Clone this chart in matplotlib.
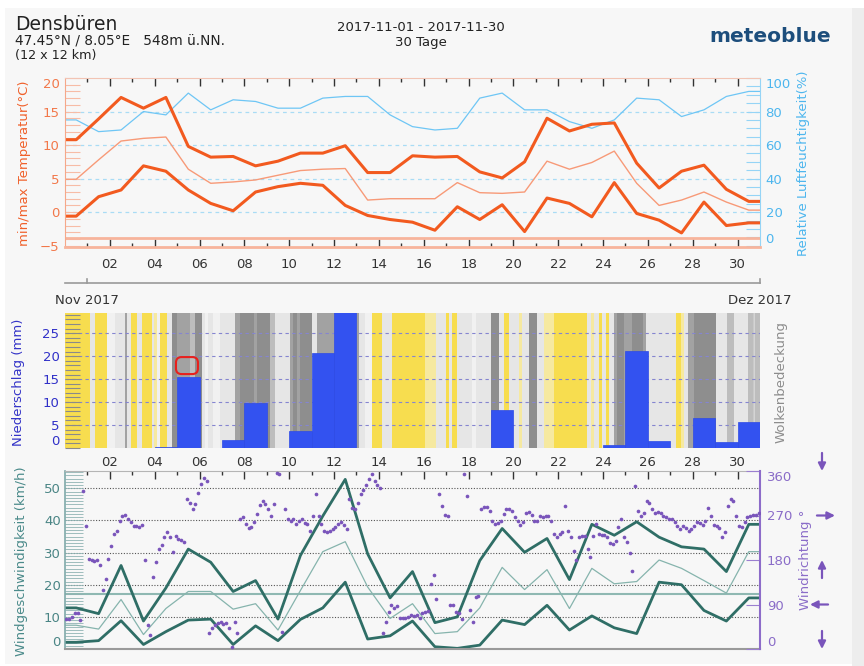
"""
meteoblue-style monthly overview for Densbueren, Nov 2017:
temperature / humidity, precipitation over cloud cover, wind speed / direction.
"""
import numpy as np
import matplotlib
matplotlib.use("Agg")
import matplotlib.pyplot as plt
import matplotlib.transforms as mtransforms
from matplotlib.patches import Rectangle, FancyBboxPatch
from matplotlib.lines import Line2D
from matplotlib.ticker import MultipleLocator

plt.rcParams["font.family"] = ["DejaVu Sans"]
plt.rcParams["hatch.linewidth"] = 0.8

# ----------------------------- DATA -----------------------------
DAY_LABELS = [f"{d:02d}" for d in range(2, 31, 2)]

TMAX = [10.8, 13.9, 17.1, 15.5, 17.1, 9.8, 8.2, 8.3, 6.9, 7.6, 8.8, 8.8, 9.9, 5.9, 5.9,
        8.4, 8.2, 8.3, 6.0, 5.1, 7.5, 14.0, 12.1, 13.1, 13.3, 7.3, 3.6, 6.1, 7.0, 3.4, 1.6]
TMEAN = [4.9, 7.8, 10.6, 11.0, 11.2, 6.4, 4.3, 4.5, 4.8, 5.5, 6.2, 6.4, 6.5, 1.8, 2.0,
         2.0, 2.0, 4.4, 2.9, 2.8, 3.0, 7.6, 6.4, 7.4, 9.1, 4.3, 1.0, 1.8, 3.0, 1.5, 0.3]
TMIN = [-0.6, 2.3, 3.3, 6.9, 6.1, 3.3, 1.3, 0.2, 3.0, 3.8, 4.3, 4.0, 1.0, -0.5, -1.1,
        -1.5, -2.7, 0.8, -1.1, 1.1, -2.9, 2.1, 1.3, -0.7, 4.4, -0.2, -1.2, -3.1, 1.5, -2.0, -1.6]
RH = [75, 68, 69, 80, 78, 91, 81, 87, 86, 82, 82, 88, 89, 89, 78,
      71, 69, 70, 88, 91, 81, 81, 74, 70, 75, 88, 87, 77, 81, 89, 92]

PRECIP = [0, 0, 0, 0, 0.2, 15.5, 0, 1.7, 9.8, 0, 3.7, 20.6, 30.0, 0.1, 0,
          0, 0, 0, 0, 8.3, 0, 0, 0, 0, 0.6, 21.1, 1.5, 0, 6.5, 1.3, 5.6]

# cloud cover: segment start (days) and class per segment
CLOUD_T = [0.00, 1.12, 1.34, 1.89, 2.23, 2.68, 2.78, 2.93, 3.20, 3.42, 3.87, 3.97, 4.09, 4.24,
           4.54, 4.76, 4.99, 5.58, 5.80, 6.10, 6.25, 6.40, 6.62, 6.92, 7.59, 7.81, 8.41, 8.56,
           9.15, 9.38, 10.04, 10.19, 10.34, 10.49, 11.01, 11.25, 13.10, 13.39, 13.69, 14.14,
           14.58, 16.07, 16.53, 16.98, 17.13, 17.28, 17.50, 18.17, 18.32, 19.00, 19.36, 19.58,
           19.80, 20.25, 20.40, 20.70, 21.07, 21.37, 21.81, 23.30, 23.45, 23.60, 23.82, 23.97,
           24.12, 24.27, 24.49, 24.64, 24.94, 25.31, 25.76, 25.91, 27.25, 27.47, 27.62, 27.77,
           28.07, 29.03, 29.55, 29.85, 30.45, 30.67]
CLOUD_CODE = "YLYWLGLYLYLPWYLDGSDLWLWLGDGDSLGDGDLGLWYLYPLYLYLWLDLYLPLDLPYLPLYLYLGDGDGLYPLGDLSLSH"

WMAX = [12.8, 11.0, 26.0, 8.7, 19.0, 31.1, 27.0, 17.9, 21.3, 9.3, 29.1, 41.4, 52.8, 29.6, 15.9,
        24.1, 8.2, 10.0, 27.5, 37.5, 30.1, 34.4, 21.6, 38.8, 35.4, 39.6, 34.8, 31.8, 31.1, 24.1, 38.8]
WMEAN = [7.4, 6.2, 15.4, 4.5, 12.6, 17.9, 17.9, 12.4, 14.1, 5.9, 18.2, 30.3, 33.4, 19.3, 9.5,
         14.1, 4.8, 5.4, 12.8, 25.4, 18.5, 24.7, 12.6, 25.1, 20.3, 21.0, 27.7, 25.1, 21.3, 17.4, 30.3]
WMIN = [2.1, 2.6, 8.8, 1.4, 5.4, 9.0, 9.3, 1.4, 7.2, 2.6, 9.2, 12.8, 20.8, 3.1, 4.1,
        8.7, 0.7, 0.2, 1.2, 9.0, 7.6, 13.6, 5.9, 10.3, 6.6, 4.8, 20.8, 20.0, 12.0, 8.7, 15.9]

# wind direction, 3-hourly (8 values per day)
WDIR = [
    60, 60, 65, 72, 72, 58, 320, 249,
    182, 179, 177, 181, 169, 119, 142, 182,
    209, 232, 239, 259, 269, 271, 263, 256,
    249, 249, 246, 250, 179, 48, 28, 145,
    175, 202, 210, 226, 237, 226, 196, 228,
    222, 221, 217, 304, 296, 283, 293, 316,
    333, 346, 340, 32, 43, 48, 52, 54,
    50, 52, 43, 5, 55, 32, 263, 266,
    252, 244, 246, 257, 273, 291, 299, 293,
    283, 269, 293, 356, 353, 35, 283, 263,
    259, 263, 252, 259, 263, 255, 252, 239,
    269, 313, 269, 252, 239, 236, 239, 242,
    246, 252, 256, 250, 242, 303, 286, 284,
    296, 313, 321, 331, 343, 353, 340, 331,
    326, 32, 55, 75, 90, 82, 87, 62,
    63, 62, 65, 68, 67, 68, 63, 72,
    75, 76, 132, 149, 102, 313, 289, 271,
    268, 90, 88, 75, 72, 60, 353, 309,
    78, 55, 105, 108, 284, 288, 288, 279,
    259, 252, 255, 259, 273, 283, 283, 279,
    266, 259, 250, 257, 276, 277, 271, 259,
    259, 269, 266, 269, 268, 259, 232, 226,
    232, 236, 289, 239, 226, 199, 179, 226,
    229, 228, 202, 186, 229, 252, 232, 230,
    230, 226, 214, 212, 219, 246, 263, 226,
    216, 194, 157, 330, 279, 269, 276, 299,
    296, 283, 275, 277, 275, 269, 266, 263,
    263, 256, 249, 242, 248, 244, 239, 242,
    249, 256, 254, 250, 259, 286, 269, 250,
    248, 244, 226, 236, 289, 304, 299, 269,
    249, 246, 256, 266, 268, 271, 271, 276,
]

# ----------------------------- STYLE -----------------------------
W_PX, H_PX, DPI = 864, 666, 100
BG = "#f7f7f7"
ORANGE, SALMON, SALMON_L = "#f25a1f", "#f79a78", "#f7b49c"
SKY, SKY_L = "#6ec6f5", "#4db6ee"
BLUE = "#3352f0"
TEAL, TEAL_L = "#2f6e66", "#86b4ad"
PURPLE = "#7a55bb"
CLOUD_COLORS = {"Y": "#f7dd4f", "P": "#f6e9a0", "W": "#f1f1f1", "L": "#e6e6e6",
                "S": "#bdbdbd", "G": "#a2a2a2", "D": "#8e8e8e", "H": "#bdbdbd"}
FS = 9.5

centers = np.arange(31) + 0.5


def ext(vals):
    """Day-centre polyline extended flat to both edges of the month."""
    return np.r_[0, centers, 31], np.r_[vals[0], vals, vals[-1]]


def fx(x):
    return x / W_PX


def fy(y):
    return 1 - y / H_PX


fig = plt.figure(figsize=(W_PX / DPI, H_PX / DPI), dpi=DPI, facecolor="white")
fig.patches.append(Rectangle((fx(5), fy(664)), fx(852) - fx(5), fy(8) - fy(664),
                             transform=fig.transFigure, facecolor=BG, edgecolor="none", zorder=-10))
fig.patches.append(Rectangle((fx(852), 0), 1 - fx(852), fy(8), transform=fig.transFigure,
                             facecolor="#ededed", edgecolor="none", zorder=-10))


def axes_px(top, bottom):
    return fig.add_axes([fx(65), fy(bottom), (760 - 65) / W_PX, (bottom - top) / H_PX])


def day_ticks(ax, labels, top, bottom):
    ax.set_xlim(0, 31)
    ax.set_xticks(range(2, 31, 2))
    ax.set_xticks(range(1, 31, 2), minor=True)
    if labels:
        ax.set_xticklabels(DAY_LABELS)
    else:
        ax.set_xticklabels([])
    ax.tick_params(axis="x", which="both", direction="in", top=top, bottom=bottom,
                   color="#333333", width=1, labelsize=FS, labelcolor="#333333")
    ax.tick_params(axis="x", which="major", length=6)
    ax.tick_params(axis="x", which="minor", length=3)


# ----------------------------- TEMPERATURE / HUMIDITY -----------------------------
ax_t = axes_px(78, 247)
ax_h = ax_t.twinx()
ax_t.set_zorder(ax_h.get_zorder() + 1)
ax_t.patch.set_visible(False)
ax_t.set_ylim(-5.2, 20)
ax_h.set_ylim(-0.8, 100)

for v in (20, 40, 60, 80):
    ax_h.axhline(v, color="#a9dcf5", lw=0.9, ls=(0, (3, 3)), zorder=0)
ax_h.plot(*ext(RH), color=SKY, lw=0.9)
ax_t.axhline(-3.85, color=SALMON_L, lw=2)
ax_t.plot(*ext(TMEAN), color=SALMON, lw=1.0)
ax_t.plot(*ext(TMAX), color=ORANGE, lw=2.2)
ax_t.plot(*ext(TMIN), color=ORANGE, lw=2.2)

day_ticks(ax_t, True, True, True)
ax_t.tick_params(axis="x", pad=8)
ax_t.set_yticks(range(-5, 21, 5))
ax_t.yaxis.set_minor_locator(MultipleLocator(1))
ax_t.tick_params(axis="y", which="both", direction="in", length=11, width=0.8,
                 color="#f7bca6", labelcolor="#f2784a", labelsize=FS, pad=4)
ax_t.get_yticklabels()[-1].set_va("top")
ax_h.set_yticks(range(0, 101, 20))
ax_h.yaxis.set_minor_locator(MultipleLocator(5))
ax_h.tick_params(axis="y", which="both", direction="in", length=10, width=0.8,
                 color="#95d4f6", labelcolor=SKY_L, labelsize=FS, pad=4)
ax_h.get_yticklabels()[-1].set_va("top")
ax_h.get_yticklabels()[0].set_va("bottom")

ax_t.spines["left"].set_color("#f5a88a")
ax_t.spines["top"].set_color("#f2c4b4")
ax_t.spines["bottom"].set_color(SALMON_L)
ax_t.spines["bottom"].set_linewidth(2)
ax_t.spines["right"].set_visible(False)
for s in ("left", "top", "bottom"):
    ax_h.spines[s].set_visible(False)
ax_h.spines["right"].set_color("#95d4f6")

# ----------------------------- PRECIPITATION / CLOUDS -----------------------------
ax_p = axes_px(313, 448)
ax_p.set_facecolor("none")
ax_p.set_ylim(0, 29.4)
ends = CLOUD_T[1:] + [31]
for s, e, c in zip(CLOUD_T, ends, CLOUD_CODE):
    ax_p.axvspan(s, e, facecolor=CLOUD_COLORS[c], lw=0, zorder=0,
                 hatch="||" if c == "H" else None, edgecolor="#dedede")
for v in range(5, 26, 5):
    ax_p.axhline(v, color="#8585d0", lw=0.8, ls=(0, (3, 3)), zorder=1)
ax_p.bar(centers, PRECIP, width=1.0, color=BLUE, edgecolor="#2d4ae6", lw=0.5, zorder=2)
ax_p.add_patch(FancyBboxPatch((4.95, 16.1), 0.98, 3.7, boxstyle="round,pad=0,rounding_size=0.25",
                              mutation_aspect=4.9, facecolor="none", edgecolor="#e8201c",
                              lw=1.5, zorder=4))

day_ticks(ax_p, True, False, True)
ax_p.tick_params(axis="x", which="both", length=0, pad=6)
ax_p.set_yticks(range(0, 26, 5))
ax_p.yaxis.set_minor_locator(MultipleLocator(1))
ax_p.tick_params(axis="y", which="both", direction="in", length=11, width=0.8,
                 color="#8a8a8a", labelcolor="#3030c8", labelsize=FS, pad=4)
ax_p.get_yticklabels()[0].set_va("bottom")
for s in ax_p.spines.values():
    s.set_visible(False)

# ----------------------------- WIND -----------------------------
ax_w = axes_px(471, 649)
ax_d = ax_w.twinx()
ax_w.set_facecolor("none")
ax_w.set_ylim(0, 55.4)
ax_d.set_ylim(0, 360)
for v in range(10, 51, 10):
    ax_w.axhline(v, color="#555555", lw=0.8, ls=(0, (1, 1.5)), zorder=0)
ax_w.axhline(17.2, color="#8fb8b2", lw=1.5, zorder=1)
ax_w.plot(*ext(WMEAN), color=TEAL_L, lw=0.9, zorder=2)
ax_w.plot(*ext(WMAX), color=TEAL, lw=2.0, zorder=2)
ax_w.plot(*ext(WMIN), color=TEAL, lw=2.0, zorder=2)
wd_t = np.arange(len(WDIR)) / 8 + 1 / 16
ax_d.scatter(wd_t, WDIR, s=7, color=PURPLE, lw=0, zorder=3)

day_ticks(ax_w, False, True, False)
ax_w.set_yticks(range(0, 51, 10))
ax_w.yaxis.set_minor_locator(MultipleLocator(1))
ax_w.tick_params(axis="y", which="both", direction="in", length=13, width=0.6,
                 color="#8fb3b3", labelcolor="#4a8585", labelsize=FS, pad=3)
ax_w.get_yticklabels()[0].set_va("bottom")
ax_d.set_yticks([0, 90, 180, 270, 360])
ax_d.tick_params(axis="y", direction="in", length=10, width=0.8, color="#9b7fd0",
                 labelcolor="#8a6cc8", labelsize=FS, pad=5)
ax_d.get_yticklabels()[0].set_va("bottom")
ax_d.get_yticklabels()[-1].set_va("top")

ax_w.spines["left"].set_color("#7fa9a9")
ax_w.spines["left"].set_linewidth(1.2)
ax_w.spines["bottom"].set_color("#9a9a9a")
ax_w.spines["bottom"].set_linewidth(1.5)
ax_w.spines["top"].set_color("#b5b5b5")
ax_w.spines["right"].set_visible(False)
for s in ("left", "top", "bottom"):
    ax_d.spines[s].set_visible(False)
ax_d.spines["right"].set_color("#8d6cc9")
ax_d.spines["right"].set_linewidth(1.5)

# compass arrows right of the direction axis
arr = mtransforms.blended_transform_factory(fig.transFigure, ax_d.transData)
ARROWS = [(822, 0, (0, 13)), (822, 360, (0, 13)), (822, 180, (0, -13)),
          (810, 90, (13, 0)), (835, 270, (-13, 0))]
for xp, lvl, off in ARROWS:
    ax_d.annotate("", xy=(fx(xp), lvl), xycoords=arr, xytext=off, textcoords="offset points",
                  annotation_clip=False,
                  arrowprops=dict(arrowstyle="-|>", color=PURPLE, lw=1.6, mutation_scale=11,
                                  shrinkA=0, shrinkB=0))

# ----------------------------- TEXTS -----------------------------
def ftext(x, y, s, **kw):
    kw.setdefault("color", "#222222")
    kw.setdefault("fontsize", FS)
    fig.text(fx(x), fy(y), s, **kw)


ftext(15, 30, "Densbüren", fontsize=13.5, va="baseline")
ftext(15, 45, "47.45°N / 8.05°E   548m ü.NN.", fontsize=9.8, va="baseline")
ftext(15, 59, "(12 x 12 km)", fontsize=9.2, va="baseline")
ftext(421, 31, "2017-11-01 - 2017-11-30", fontsize=9.5, ha="center", va="baseline")
ftext(421, 46, "30 Tage", fontsize=9.5, ha="center", va="baseline")
ftext(770, 42, "meteoblue", fontsize=14.5, ha="center", va="baseline", color="#1d4e7c",
      fontweight="bold")

ftext(25, 163, "min/max Temperatur(°C)", rotation=90, ha="center", va="center", color="#f0602a")
ftext(804, 163, "Relative Luftfeuchtigkeit(%)", rotation=90, ha="center", va="center", color=SKY_L)
ftext(19, 382, "Niederschlag (mm)", rotation=90, ha="center", va="center", color="#3434c8")
ftext(781, 382, "Wolkenbedeckung", rotation=90, ha="center", va="center", color="#8c8c8c")
ftext(22, 561, "Windgeschwindigkeit (km/h)", rotation=90, ha="center", va="center", color="#4a8a8a")
ftext(805, 560, "Windrichtung °", rotation=90, ha="center", va="center", color="#8a6cc8")

ftext(55, 300, "Nov 2017", va="center", color="#333333")
ftext(792, 300, "Dez 2017", ha="right", va="center", color="#333333")

# thin frame line under the temperature day labels
fig.add_artist(Line2D([fx(65), fx(760)], [fy(283), fy(283)], color="#9a9a9a", lw=1.2))
for xp in (87, 760):
    fig.add_artist(Line2D([fx(xp), fx(xp)], [fy(283), fy(279)], color="#9a9a9a", lw=1.2))

fig.savefig("out.png", dpi=DPI, facecolor=fig.get_facecolor())
